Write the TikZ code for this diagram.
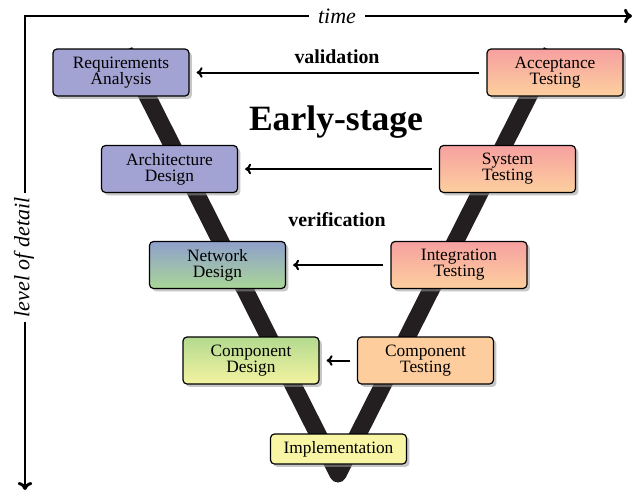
\documentclass[tikz,border=0pt]{standalone}
\usepackage{fontspec}
\setmainfont{Liberation Serif}
\usetikzlibrary{arrows.meta}
\usetikzlibrary{shadows}
\usetikzlibrary{calc}
\definecolor{vblack}{RGB}{35,31,32}
\definecolor{lavender}{RGB}{163,163,211}
\definecolor{ndblue}{RGB}{143,160,204}
\definecolor{ndcyan}{RGB}{152,208,210}
\definecolor{ndgreen}{RGB}{170,214,152}
\definecolor{cdgreen}{RGB}{178,218,143}
\definecolor{cdyellow}{RGB}{244,243,160}
\definecolor{implyellow}{RGB}{248,245,165}
\definecolor{tstpink}{RGB}{246,160,160}
\definecolor{tstpeach}{RGB}{253,208,158}
\definecolor{ctpeach}{RGB}{253,205,158}

\begin{document}
\begin{tikzpicture}[x=0.75pt,y=-0.75pt,line cap=butt,line join=round
  ,phase/.style={draw=black,line width=0.9pt,rounded corners=3pt,
    minimum width=102pt,minimum height=35.25pt,inner sep=0pt,align=center,
    font=\fontsize{13}{12}\selectfont,
    drop shadow={shadow xshift=2.2pt,shadow yshift=-2.2pt,fill=gray!80,opacity=0.55}}
  ,axis/.style={line width=2.2pt,line join=miter,
    {Computer Modern Rightarrow[length=6pt,width=11pt]}-{Computer Modern Rightarrow[length=6pt,width=11pt]}}
  ,check/.style={line width=1.5pt,shorten >=5.25pt,shorten <=5.25pt,
    -{Computer Modern Rightarrow[length=4.5pt,width=8pt]}}
  ,caption/.style={font=\fontsize{14.9}{16}\selectfont\bfseries,anchor=base}]
\useasboundingbox (0,0) rectangle (634,493);
\def\vw{12.75pt}
\coordinate (O) at (25,16);
\coordinate (T) at (632,16);
\coordinate (D) at (25,490);
\draw[axis] (T) -- (O) -- (D);
\node[fill=white,inner xsep=6.5pt,inner ysep=2pt,
  font=\fontsize{16.5}{18}\selectfont\itshape] (time) at (337,16) {time};
\node[fill=white,inner xsep=3.5pt,inner ysep=2pt,rotate=90,
  font=\fontsize{16.5}{18}\selectfont\itshape] (detail) at (24,257.5) {level of detail};
\coordinate (Vl) at (124.5,51);
\coordinate (Vb) at (338,474);
\coordinate (Vr) at (551.5,51);
\draw[vblack,line width=\vw] (Vl) -- (Vb) -- (Vr);
\node[phase,fill=lavender] (RA) at (121,72.5) {Requirements\\Analysis};
\node[phase,fill=lavender] (AD) at (169.5,169) {Architecture\\Design};
\node[phase,top color=ndblue,middle color=ndcyan,bottom color=ndgreen]
  (ND) at (217.5,265) {Network\\Design};
\node[phase,top color=cdgreen,bottom color=cdyellow]
  (CD) at (251,360.5) {Component\\Design};
\node[phase,fill=implyellow,minimum height=22.5pt] (IM) at (338.5,449) {Implementation};
\node[phase,fill=ctpeach] (CT) at (425.5,360.5) {Component\\Testing};
\node[phase,top color=tstpink,bottom color=tstpeach]
  (IT) at (459,265) {Integration\\Testing};
\node[phase,top color=tstpink,bottom color=tstpeach]
  (ST) at (507.5,169) {System\\Testing};
\node[phase,top color=tstpink,bottom color=tstpeach]
  (AT) at (555,72.5) {Acceptance\\Testing};
\draw[check] (AT) -- (RA);
\draw[check] (ST) -- (AD);
\draw[check] (IT) -- (ND);
\draw[check] (CT) -- (CD);
\node[caption] (val) at (337,63) {validation};
\node[caption] (ver) at (337,226) {verification};
\node[caption,font=\fontsize{26.7}{30}\selectfont\bfseries] (early) at (336,130) {Early-stage};

\end{tikzpicture}
\end{document}
